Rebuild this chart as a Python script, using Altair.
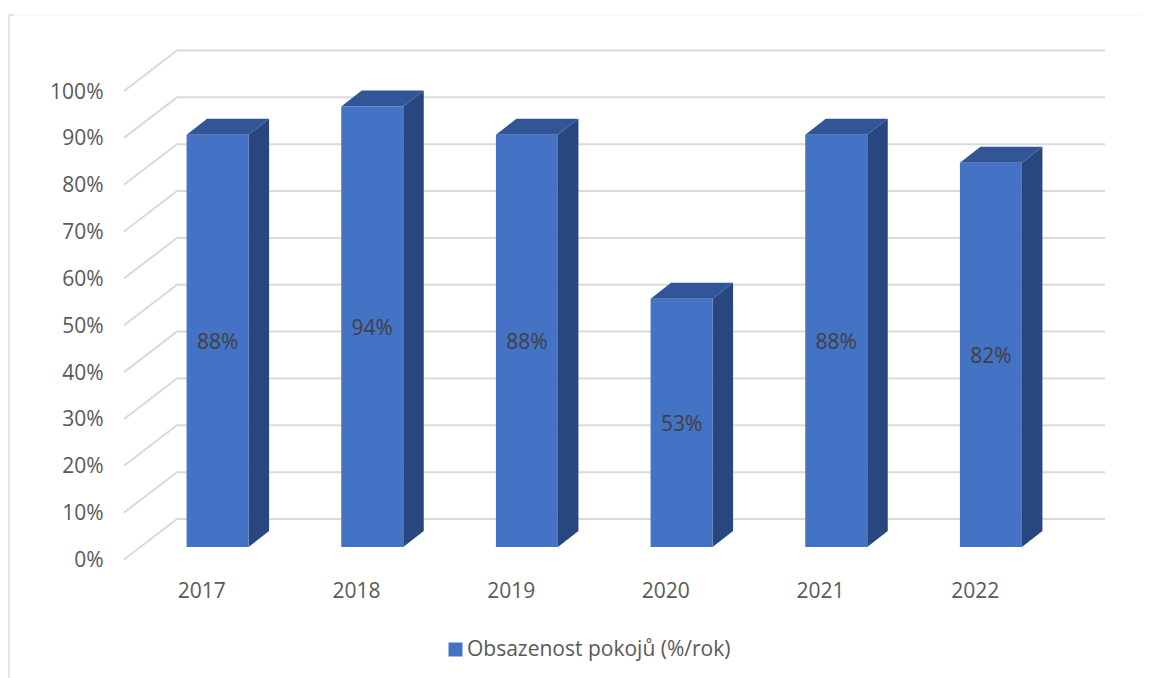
import altair as alt
import pandas as pd

years = ["2017", "2018", "2019", "2020", "2021", "2022"]
occupancy = [88, 94, 88, 53, 88, 82]
axis_ticks = [0, 10, 20, 30, 40, 50, 60, 70, 80, 90, 100]
series_name = "Obsazenost pokojů (%/rok)"

# Oblique projection of the 3D chart, in data units
PLOT_W, PLOT_H = 928, 468.5
XU = PLOT_W / 6
YU = PLOT_H / 100
WALL_DX = 53 / XU     # depth of the floor, x
WALL_DY = 40.5 / YU   # depth of the floor, y
BAR_W = 62 / XU
BAR_DX = 20.5 / XU
BAR_DY = 16 / YU
BAR_SHIFT_X = 16.25 / XU
BAR_SHIFT_Y = 12.5 / YU

FONT = "Open Sans"
TEXT = "#595959"
GRID = "#DADADA"
FS = 21

grid_rows = []
for t in axis_ticks:
    grid_rows += [
        {"level": t, "x": 0, "y": t},
        {"level": t, "x": WALL_DX, "y": t + WALL_DY},
        {"level": t, "x": 6 + WALL_DX, "y": t + WALL_DY},
    ]

front, side, top = [], [], []
for i, (yr, v) in enumerate(zip(years, occupancy)):
    x0 = i + 0.5 + BAR_SHIFT_X - BAR_W / 2
    x1 = x0 + BAR_W
    y0 = BAR_SHIFT_Y
    y1 = v + BAR_SHIFT_Y
    front.append({"year": yr, "x0": x0, "x1": x1, "y0": y0, "y1": y1,
                  "xm": (x0 + x1) / 2, "ym": (y0 + y1) / 2,
                  "label": f"{v}%", "series": series_name})
    side += [
        {"year": yr, "x": x1, "lo": y0, "hi": y1},
        {"year": yr, "x": x1 + BAR_DX, "lo": y0 + BAR_DY, "hi": y1 + BAR_DY},
    ]
    top += [
        {"year": yr, "x": x0, "lo": y1, "hi": y1},
        {"year": yr, "x": x0 + BAR_DX, "lo": y1, "hi": y1 + BAR_DY},
        {"year": yr, "x": x1, "lo": y1, "hi": y1 + BAR_DY},
        {"year": yr, "x": x1 + BAR_DX, "lo": y1 + BAR_DY, "hi": y1 + BAR_DY},
    ]

grid_df = pd.DataFrame(grid_rows)
front_df = pd.DataFrame(front)
side_df = pd.DataFrame(side)
top_df = pd.DataFrame(top)

year_expr = "2017 + floor(datum.value)"
x_scale = alt.Scale(domain=[0, 6], nice=False, zero=False)
y_scale = alt.Scale(domain=[0, 100], nice=False, zero=False)
x_axis = alt.Axis(values=[i + 0.5 for i in range(6)], labelExpr=year_expr, title=None,
                  domain=False, ticks=False, grid=False, tickSize=0, labelPadding=21,
                  labelFont=FONT, labelFontSize=FS, labelColor=TEXT)
y_axis = alt.Axis(values=axis_ticks, labelExpr="datum.value + '%'", title=None,
                  domain=False, ticks=False, grid=False, tickSize=0, labelPadding=21,
                  labelOffset=1, labelFont=FONT, labelFontSize=FS, labelColor=TEXT)

grid = alt.Chart(grid_df).mark_line(color=GRID, strokeWidth=2).encode(
    x=alt.X("x:Q", scale=x_scale, axis=x_axis),
    y=alt.Y("y:Q", scale=y_scale, axis=y_axis),
    detail="level:N",
)
side_face = alt.Chart(side_df).mark_area(color="#29477F", orient="vertical").encode(
    x=alt.X("x:Q", scale=x_scale),
    y=alt.Y("lo:Q", scale=y_scale),
    y2="hi:Q",
    detail="year:N",
)
top_face = alt.Chart(top_df).mark_area(color="#315597", orient="vertical").encode(
    x=alt.X("x:Q", scale=x_scale),
    y=alt.Y("lo:Q", scale=y_scale),
    y2="hi:Q",
    detail="year:N",
)
front_face = alt.Chart(front_df).mark_rect().encode(
    x=alt.X("x0:Q", scale=x_scale),
    x2="x1:Q",
    y=alt.Y("y0:Q", scale=y_scale),
    y2="y1:Q",
    color=alt.Color(
        "series:N",
        scale=alt.Scale(domain=[series_name], range=["#4472C4"]),
        legend=alt.Legend(orient="none", legendX=321, legendY=548, title=None,
                          symbolType="square", symbolSize=196, symbolStrokeWidth=0,
                          labelFont=FONT, labelFontSize=FS, labelColor=TEXT, labelOffset=1,
                          labelLimit=500),
    ),
)
labels = alt.Chart(front_df).mark_text(font=FONT, fontSize=FS, color="#404040", dy=2).encode(
    x=alt.X("xm:Q", scale=x_scale),
    y=alt.Y("ym:Q", scale=y_scale),
    text="label:N",
)

# Border of the pasted chart area (page furniture, in pixels from the plot origin)
frame_left = alt.Chart(pd.DataFrame({"a": [0]})).mark_rule(color="#DCDCDC", strokeWidth=1.5).encode(
    x=alt.value(-115), y=alt.value(-76), y2=alt.value(590))
frame_top = alt.Chart(pd.DataFrame({"a": [0]})).mark_rule(color="#F3F3F3", strokeWidth=1).encode(
    x=alt.value(-115), x2=alt.value(1030), y=alt.value(-76))
frame_tick = alt.Chart(pd.DataFrame({"a": [0]})).mark_rule(color="#DCDCDC", strokeWidth=1.5).encode(
    x=alt.value(-115), x2=alt.value(-110), y=alt.value(-76))

chart = (
    alt.layer(frame_top, frame_left, frame_tick, grid, side_face, top_face, front_face, labels)
    .resolve_scale(x="shared", y="shared")
    .properties(
        width=PLOT_W,
        height=PLOT_H,
        background="white",
        autosize=alt.AutoSizeParams(type="none"),
        padding={"left": 116, "top": 83, "right": 90, "bottom": 118.5},
    )
    .configure_view(stroke=None)
)

chart.save("out.html", embed_options={"renderer": "svg", "actions": False})
